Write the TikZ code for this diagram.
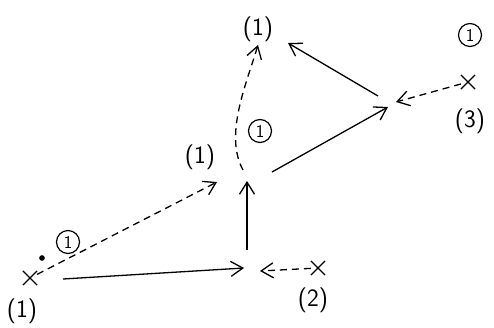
\documentclass[tikz,border=0pt]{standalone}
\usepackage{tikz}
\usetikzlibrary{arrows.meta, shapes.misc}

\begin{document}
\begin{tikzpicture}[x=1pt, y=-1pt,
  font=\sffamily\fontsize{25}{28}\selectfont,
  crossmark/.style={cross out, draw, line width=1.2pt, minimum size=13pt, inner sep=0pt},
  circnum/.style={circle, draw, line width=1.2pt, minimum size=23pt, inner sep=0pt, font=\sffamily\fontsize{18}{20}\selectfont},
  label/.style={inner sep=0pt},
  line/.style={draw, line width=1.3pt, -{Straight Barb[length=12pt, width=15pt]}},
  dline/.style={line, dash pattern=on 7pt off 5pt}]

  \useasboundingbox (0,0) rectangle (494,327);

  % lower left point
  \node [crossmark] (xone) at (30,278) {};
  \node [label] (lone) at (22,311) {(1)};
  \node [circle, fill, inner sep=2pt] (dotone) at (42,258) {};
  \node [circnum] (cone) at (68,242) {1};
  \coordinate (tipone) at (217,182);
  \node [label] (lmid) at (200,157) {(1)};
  \path [dline] (xone) -- (tipone);

  % point (2)
  \coordinate (sone) at (63,279);
  \coordinate (stwo) at (244,268);
  \path [line] (sone) -- (stwo);
  \node [crossmark] (xtwo) at (318,268) {};
  \node [label] (ltwo) at (313,300) {(2)};
  \coordinate (ttwo) at (260,271);
  \path [dline] (xtwo) -- (ttwo);

  % vertical and curved
  \coordinate (vbot) at (247,250);
  \coordinate (vtop) at (247,181);
  \path [line] (vbot) -- (vtop);
  \coordinate (cbot) at (243,170);
  \coordinate (ctop) at (258,45);
  \path [dline] (cbot) .. controls (224,135) and (246,85) .. (ctop);
  \node [circnum] (cmid) at (260,131) {1};
  \node [label] (ltop) at (258,29) {(1)};

  % point (3)
  \coordinate (dbot) at (272,172);
  \coordinate (dtop) at (388,107);
  \path [line] (dbot) -- (dtop);
  \coordinate (ebot) at (378,96);
  \coordinate (etop) at (288,43);
  \path [line] (ebot) -- (etop);
  \node [crossmark] (xthree) at (468,82) {};
  \node [label] (lthree) at (470,121) {(3)};
  \node [circnum] (cthree) at (470,35) {1};
  \coordinate (tthree) at (396,102);
  \path [dline] (xthree) -- (tthree);
\end{tikzpicture}
\end{document}
